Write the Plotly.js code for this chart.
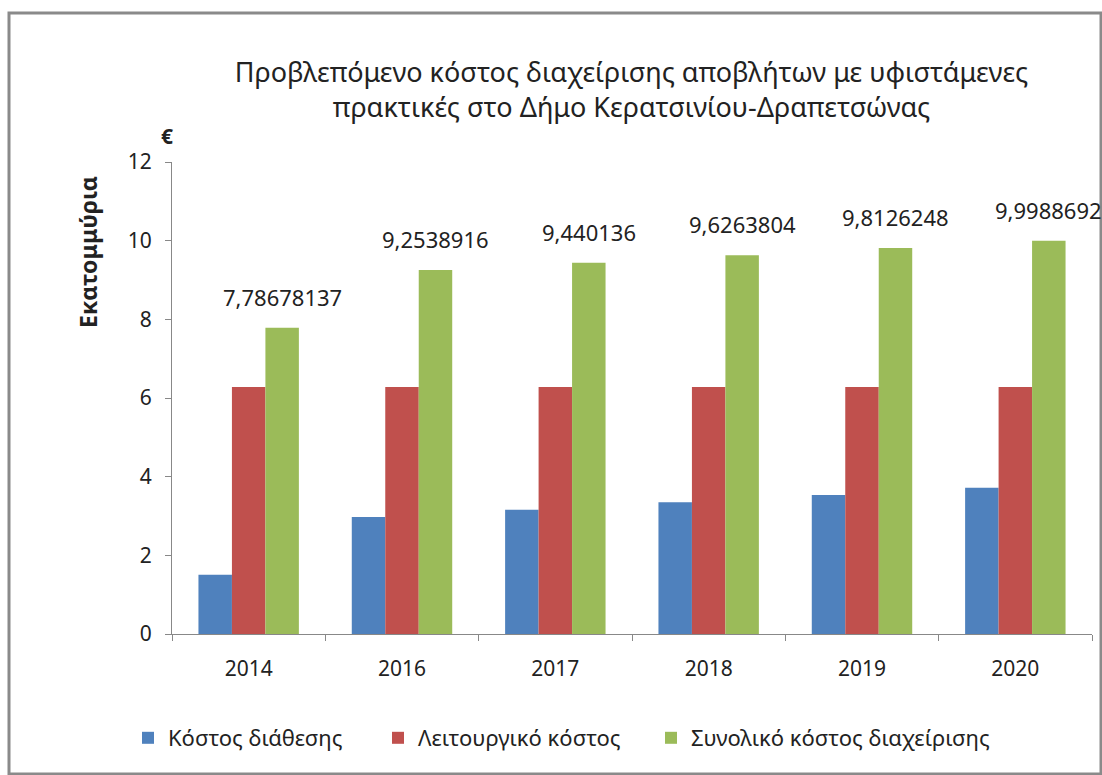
<!DOCTYPE html>
<html>
<head>
<meta charset="utf-8">
<script src="https://cdn.plot.ly/plotly-3.0.1.min.js"></script>
<style>html,body{margin:0;padding:0;background:#fff}#chart{width:1102px;height:775px}</style>
</head>
<body>
<div id="chart"></div>
<script>
const years = ['2014', '2016', '2017', '2018', '2019', '2020'];
const disposalCost = [1.5068, 2.9739, 3.1601, 3.3464, 3.5326, 3.7189];
const operatingCost = [6.28, 6.28, 6.28, 6.28, 6.28, 6.28];
const totalCost = [7.78678137, 9.2538916, 9.440136, 9.6263804, 9.8126248, 9.9988692];
const totalLabels = ['7,78678137', '9,2538916', '9,440136', '9,6263804', '9,8126248', '9,9988692'];
const seriesNames = ['Κόστος διάθεσης', 'Λειτουργικό κόστος', 'Συνολικό κόστος διαχείρισης'];
const titleText = 'Προβλεπόμενο κόστος διαχείρισης αποβλήτων με υφιστάμενες<br>πρακτικές στο Δήμο Κερατσινίου-Δραπετσώνας';
const yTicks = [0, 2, 4, 6, 8, 10, 12];

const W = 1102, H = 775;
const mL = 172, mR = 10, mT = 162, mB = 141;
const pw = W - mL - mR, ph = H - mT - mB;
const px = x => (x - mL) / pw;
const py = y => (H - mB - y) / ph;
const bargap = 0.345;
const barW = pw / years.length * (1 - bargap) / 3;

const font = 'Noto Sans, DejaVu Sans, sans-serif';
const txt = '#222';

const traces = [
  {type: 'bar', name: seriesNames[0], x: years, y: disposalCost, marker: {color: '#4F81BD'}, hoverinfo: 'none', legend: 'legend'},
  {type: 'bar', name: seriesNames[1], x: years, y: operatingCost, marker: {color: '#C0504D'}, hoverinfo: 'none', legend: 'legend2'},
  {type: 'bar', name: seriesNames[2], x: years, y: totalCost, marker: {color: '#9BBB59'}, hoverinfo: 'none', legend: 'legend3'}
];

const legendBase = (xPix) => ({x: px(xPix), xanchor: 'left', y: py(738), yanchor: 'middle',
  font: {size: 22, color: txt}, bgcolor: 'rgba(0,0,0,0)', itemwidth: 30});

// data labels above the green (total) bars; x is the category index
const labelAnns = years.map((yr, i) => ({
  x: i, y: totalCost[i], xref: 'x', yref: 'y', text: totalLabels[i], showarrow: false,
  xshift: barW, yshift: 14, yanchor: 'bottom', xanchor: 'center',
  font: {size: 22, color: txt, family: font}
}));

const layout = {
  width: W, height: H,
  margin: {l: mL, r: mR, t: mT, b: mB, autoexpand: false},
  paper_bgcolor: '#fff', plot_bgcolor: '#fff',
  font: {family: font, color: txt},
  barmode: 'group', bargap: bargap, bargroupgap: 0,
  title: {text: titleText, font: {size: 27, color: txt, family: font}, x: 0.573, xanchor: 'center', y: 1 - 82 / H, yanchor: 'middle'},
  xaxis: {
    type: 'category', categoryorder: 'array', categoryarray: years,
    range: [-0.5, years.length - 0.5], autorange: false,
    showgrid: false, showline: true, linecolor: '#888', linewidth: 1,
    ticks: 'outside', tickson: 'boundaries', ticklen: 6, tickcolor: '#888',
    ticklabelstandoff: 16,
    tickfont: {size: 21, color: txt}
  },
  yaxis: {
    range: [0, 12], tickvals: yTicks, showgrid: false, zeroline: false,
    showline: true, linecolor: '#888', linewidth: 1, ticks: 'outside', ticklen: 6, tickcolor: '#888',
    ticklabelstandoff: 9,
    tickfont: {size: 21, color: txt}
  },
  showlegend: true,
  legend: legendBase(128),
  legend2: legendBase(378),
  legend3: legendBase(651),
  annotations: [
    {text: '<b>€</b>', xref: 'paper', yref: 'paper', x: px(167), y: py(136), showarrow: false,
     font: {size: 21, color: txt}, xanchor: 'center', yanchor: 'middle'},
    {text: '<b>Εκατομμύρια</b>', xref: 'paper', yref: 'paper', x: px(88), y: py(252), showarrow: false,
     textangle: -90, font: {size: 23, color: txt}, xanchor: 'center', yanchor: 'middle'}
  ].concat(labelAnns),
  shapes: [
    {type: 'rect', xref: 'paper', yref: 'paper', x0: px(9), x1: px(1101), y0: py(774), y1: py(13),
     line: {color: '#8a8a8a', width: 3}, fillcolor: 'rgba(0,0,0,0)', layer: 'below'}
  ]
};

Plotly.newPlot('chart', traces, layout, {displayModeBar: false, staticPlot: true});
</script>
</body>
</html>
